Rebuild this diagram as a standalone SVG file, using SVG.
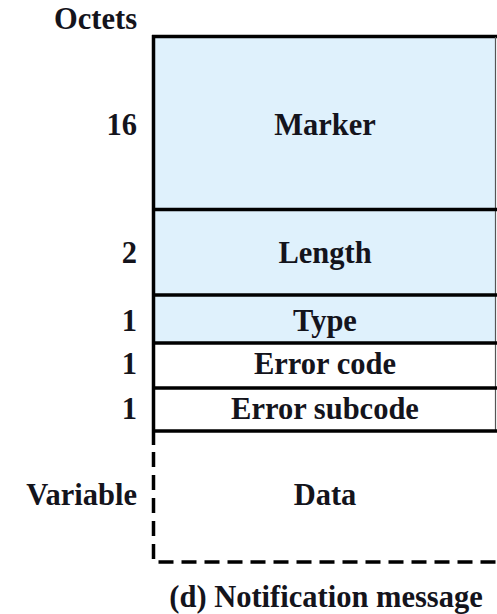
<svg xmlns="http://www.w3.org/2000/svg" width="497" height="614" viewBox="0 0 497 614">
<style>
text{font-family:"Liberation Serif","Times New Roman",serif;font-weight:bold;font-size:30.5px;fill:#14141c}
.c{text-anchor:middle}
.r{text-anchor:end}
.blue{fill:#dff1fc}
.white{fill:#ffffff}
.line{stroke:#000;stroke-width:3.5;fill:none}
.dash{stroke:#000;stroke-width:3.5;fill:none;stroke-dasharray:15 8}
.edge{stroke:#555;stroke-width:1.2;fill:none}
</style>
<rect width="497" height="614" fill="#ffffff"/>
<text class="r" x="137" y="29">Octets</text>
<g id="marker">
<rect class="blue" x="153.5" y="37" width="342" height="172.5"/>
<text class="c" x="325" y="135">Marker</text>
<text class="r" x="137" y="135">16</text>
</g>
<g id="length">
<rect class="blue" x="153.5" y="209.5" width="342" height="85.5"/>
<text class="c" x="325" y="263">Length</text>
<text class="r" x="137" y="263">2</text>
</g>
<g id="type">
<rect class="blue" x="153.5" y="295" width="342" height="48"/>
<text class="c" x="325" y="331">Type</text>
<text class="r" x="137" y="331">1</text>
</g>
<g id="errorcode">
<rect class="white" x="153.5" y="343" width="342" height="45"/>
<text class="c" x="325" y="374">Error code</text>
<text class="r" x="137" y="374">1</text>
</g>
<g id="errorsubcode">
<rect class="white" x="153.5" y="388" width="342" height="43"/>
<text class="c" x="325" y="419">Error subcode</text>
<text class="r" x="137" y="419">1</text>
</g>
<g id="data">
<text class="c" x="325" y="505">Data</text>
<text class="r" x="137" y="505">Variable</text>
</g>
<g id="borders">
<line class="line" x1="152" y1="36.5" x2="497" y2="36.5"/>
<line class="line" x1="153.5" y1="35" x2="153.5" y2="445"/>
<line class="edge" x1="495.5" y1="37" x2="495.5" y2="431"/>
<line class="line" x1="153.5" y1="209.5" x2="497" y2="209.5"/>
<line class="line" x1="153.5" y1="295" x2="497" y2="295"/>
<line class="line" x1="153.5" y1="343" x2="497" y2="343"/>
<line class="line" x1="153.5" y1="388" x2="497" y2="388"/>
<line class="line" x1="153.5" y1="431" x2="497" y2="431"/>
<path class="dash" d="M153.5 452 V562 H497"/>
</g>
<text class="c" x="326" y="607">(d) Notification message</text>
</svg>
